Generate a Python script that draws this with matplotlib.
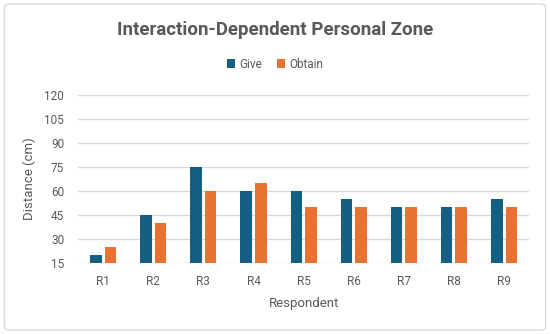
import numpy as np
import matplotlib
matplotlib.use('Agg')
import matplotlib.pyplot as plt
from matplotlib.patches import FancyBboxPatch

respondents = ['R1', 'R2', 'R3', 'R4', 'R5', 'R6', 'R7', 'R8', 'R9']
give = [20, 45, 75, 60, 60, 55, 50, 50, 55]
obtain = [25, 40, 60, 65, 50, 50, 50, 50, 50]
yticks = [15, 30, 45, 60, 75, 90, 105, 120]

blue = '#156082'
orange = '#E97132'
grey = '#595959'

plt.rcParams['font.family'] = ['Roboto', 'DejaVu Sans']

fig = plt.figure(figsize=(5.5, 3.34), dpi=100)
fig.patches.append(FancyBboxPatch((0.008, 0.012), 0.984, 0.976,
                                  boxstyle='round,pad=0,rounding_size=0.01',
                                  transform=fig.transFigure, facecolor='none',
                                  edgecolor='#D9D9D9', linewidth=1.0, zorder=-1))

ax = fig.add_axes([0.142, 0.2135, 0.82, 0.503])
ax.set_facecolor('none')

x = np.arange(len(respondents))
w = 0.23
off = 0.145
ax.bar(x - off, np.array(give) - 15, w, bottom=15, color=blue, label='Give', zorder=3)
ax.bar(x + off, np.array(obtain) - 15, w, bottom=15, color=orange, label='Obtain', zorder=3)

ax.set_xlim(-0.5, len(respondents) - 0.5)
ax.set_ylim(15, 120)
ax.set_yticks(yticks)
ax.set_xticks(x)
ax.set_xticklabels(respondents)
ax.grid(axis='y', color='#D9D9D9', linewidth=1.0, zorder=0)
for s in ax.spines.values():
    s.set_visible(False)
ax.tick_params(length=0, colors=grey, labelsize=8.5)
ax.tick_params(axis='y', pad=10)
ax.tick_params(axis='x', pad=9)

ax.set_ylabel('Distance (cm)', color=grey, fontsize=9.5, labelpad=6)
ax.set_xlabel('Respondent', color=grey, fontsize=9.5, labelpad=6)

fig.text(0.5, 0.91, 'Interaction-Dependent Personal Zone', ha='center', va='center',
         fontsize=13.5, fontweight='bold', color=grey)
fig.legend(loc='center', bbox_to_anchor=(0.5, 0.808), ncol=2, frameon=False,
           fontsize=8.5, handlelength=0.7, handleheight=0.7, handletextpad=0.4,
           columnspacing=1.2, labelcolor=grey)

fig.savefig('out.png', dpi=100)
